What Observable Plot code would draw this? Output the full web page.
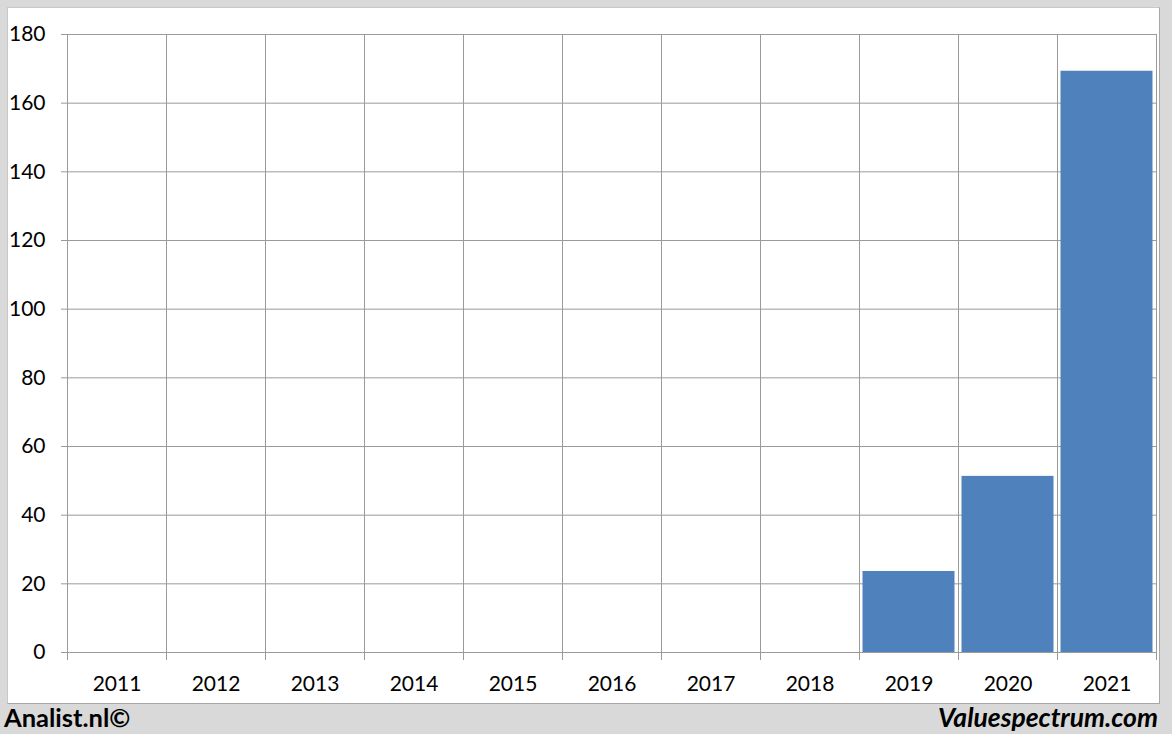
<!DOCTYPE html>
<html>
<head>
<meta charset="utf-8">
<script src="https://cdn.jsdelivr.net/npm/d3@7"></script>
<script src="https://cdn.jsdelivr.net/npm/@observablehq/plot@0.6"></script>
<style>
  html, body { margin: 0; padding: 0; background: #d9d9d9; }
  #wrap { position: relative; width: 1172px; height: 734px; overflow: hidden; font-family: Lato, "Open Sans", sans-serif; }
  #panel { position: absolute; left: 7px; top: 7px; width: 1151px; height: 695px; background: #fff; border: 1px solid #a6a6a6; border-left-color: #c8c8c8; border-top-color: #c8c8c8; }
  #chart { position: absolute; left: 0; top: 0; }
  #chart svg { background: transparent !important; }
  .foot { position: absolute; top: 702px; font-weight: bold; color: #000; line-height: 30px; }
  #left { left: 4px; font-size: 25.5px; }
  #right { right: 14px; font-style: italic; font-size: 26.5px; }
</style>
</head>
<body>
<div id="wrap">
  <div id="panel"></div>
  <div id="chart"></div>
  <div class="foot" id="left">Analist.nl©</div>
  <div class="foot" id="right">Valuespectrum.com</div>
</div>
<script>
const years = [2011, 2012, 2013, 2014, 2015, 2016, 2017, 2018, 2019, 2020, 2021];
const values = [0, 0, 0, 0, 0, 0, 0, 0, 23.6, 51.3, 169.3];
const yTicks = [0, 20, 40, 60, 80, 100, 120, 140, 160, 180];

const data = years.map((y, i) => ({year: y, value: values[i]}));
const bounds = [years[0] - 0.5, ...years.map(y => y + 0.5)];

const plot = Plot.plot({
  width: 1172,
  height: 703,
  marginLeft: 67,
  marginRight: 16,
  marginTop: 34,
  marginBottom: 51,
  style: {background: "transparent", fontFamily: "Lato, 'Open Sans', sans-serif", fontSize: "21px", color: "#000"},
  x: {domain: [bounds[0], bounds[bounds.length - 1]], label: null},
  y: {domain: [0, 180], label: null},
  marks: [
    Plot.gridY(yTicks, {stroke: "#9a9a9a", strokeOpacity: 1, x1: bounds[0], x2: bounds[bounds.length - 1]}),
    Plot.ruleX(bounds, {y1: 0, y2: 180, stroke: "#9a9a9a", strokeOpacity: 1}),
    Plot.rectY(data.filter(d => d.value > 0), {
      x1: d => d.year - 0.5, x2: d => d.year + 0.5, y: "value",
      fill: "#4f81bd", insetLeft: 3.5, insetRight: 3.5
    }),
    Plot.axisY(yTicks, {label: null, tickSize: 6, tickPadding: 16, stroke: "#9a9a9a", fill: "#000", fontSize: 21, tickFormat: d => String(d)}),
    Plot.axisX(bounds, {label: null, tickSize: 8, tickFormat: () => "", stroke: "#9a9a9a"}),
    Plot.axisX(years, {label: null, tickSize: 0, tickPadding: 24, fill: "#000", fontSize: 21, tickFormat: d => String(d)})
  ]
});
document.getElementById("chart").appendChild(plot);
</script>
</body>
</html>
